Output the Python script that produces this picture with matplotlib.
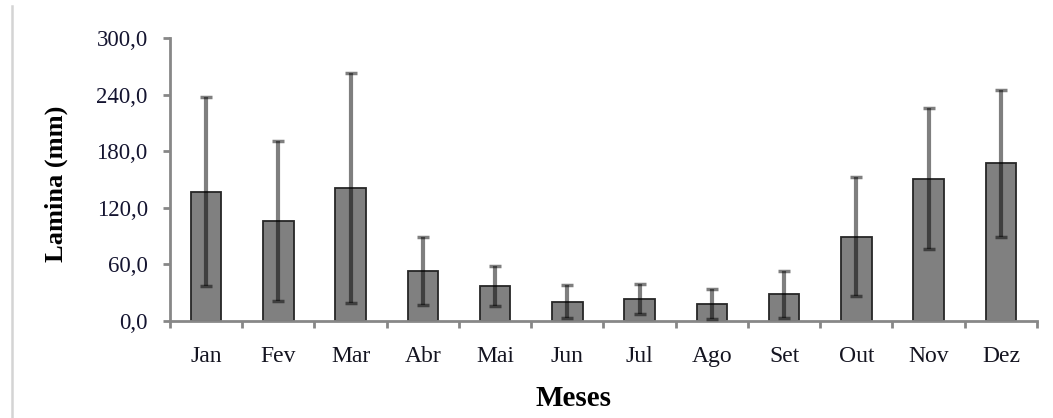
import numpy as np
import matplotlib
matplotlib.use("Agg")
import matplotlib.pyplot as plt
from matplotlib.lines import Line2D

months = ["Jan", "Fev", "Mar", "Abr", "Mai", "Jun", "Jul", "Ago", "Set", "Out", "Nov", "Dez"]
lamina = [137, 106, 141, 53, 37, 20.5, 23, 18, 28.5, 89.5, 151, 167]
desvio = [100, 85, 122, 36, 21, 17.5, 16, 16, 25, 63, 75, 78]
yticks = [0, 60, 120, 180, 240, 300]
ytick_labels = ["0,0", "60,0", "120,0", "180,0", "240,0", "300,0"]

plt.rcParams["font.family"] = ["Liberation Serif", "DejaVu Serif"]
axis_gray = "#878787"

fig = plt.figure(figsize=(10.53, 4.18), dpi=100)
ax = fig.add_axes([0.1614, 0.2321, 0.8234, 0.677])

x = np.arange(len(months))
ax.bar(x, lamina, width=0.42, color="#808080", edgecolor="#262626", linewidth=1.3, zorder=2)
ax.errorbar(x, lamina, yerr=desvio, fmt="none", ecolor=(0, 0, 0, 0.5),
            elinewidth=3.0, capsize=4.5, capthick=2.5, zorder=3)

ax.set_xlim(-0.5, len(months) - 0.5)
ax.set_ylim(0, 300)
ax.set_yticks(yticks)
ax.set_yticklabels(ytick_labels)
ax.set_xticks(x)
ax.set_xticklabels(months)
ax.set_xticks(np.arange(-0.5, len(months)), minor=True)

for side in ["top", "right"]:
    ax.spines[side].set_visible(False)
for side in ["left", "bottom"]:
    ax.spines[side].set_color(axis_gray)
    ax.spines[side].set_linewidth(2.0)

ax.tick_params(axis="x", which="major", length=0, pad=18, labelsize=17, labelcolor="#141420")
ax.tick_params(axis="x", which="minor", length=5, width=2.0, color=axis_gray, direction="out")
ax.tick_params(axis="y", length=5, width=2.0, color=axis_gray, pad=11,
               labelsize=16.5, labelcolor="#141430")

ax.set_ylabel("Lamina (mm)", fontsize=19, fontweight="bold")
ax.yaxis.set_label_coords(-0.118, 0.486)
ax.set_xlabel("Meses", fontsize=21, fontweight="bold")
ax.xaxis.set_label_coords(0.465, -0.225)

# light border line at the left of the page
fig.add_artist(Line2D([12 / 1053, 12 / 1053], [0, 0.985], transform=fig.transFigure,
                      color="#d4d4d4", linewidth=1.8))

fig.savefig("out.png", dpi=100)
